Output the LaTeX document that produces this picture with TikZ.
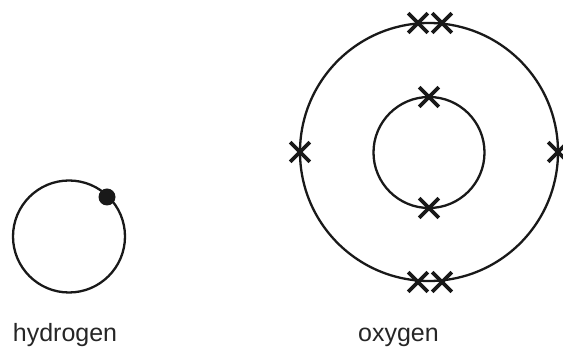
\documentclass[tikz,border=0pt]{standalone}
\usepackage{fontspec}
\setmainfont{Liberation Sans}
\usetikzlibrary{shapes.misc}
\begin{document}
\begin{tikzpicture}[x=0.5pt,y=-0.5pt,
  shell/.style={circle,draw=black!90,line width=1.15pt,inner sep=0pt},
  elec/.style={cross out,draw=black!90,line width=1.8pt,minimum size=8pt,inner sep=0pt},
  dotelec/.style={circle,fill=black!90,minimum size=8.5pt,inner sep=0pt},
  lbl/.style={anchor=base,font=\fontsize{12.5pt}{14pt}\selectfont,text=black!85}]
\useasboundingbox (0,0) rectangle (563,347);
% hydrogen
\node[shell,minimum size=56pt] (h) at (69,236.5) {};
\node[dotelec] (he) at (107,197) {};
% oxygen
\node[shell,minimum size=129pt] (oo) at (429,152) {};
\node[shell,minimum size=55.5pt] (oi) at (429,152.5) {};
\node[elec] (i1) at (429,97) {};
\node[elec] (i2) at (429,208) {};
\node[elec] (t1) at (418,23) {};
\node[elec] (t2) at (442,23) {};
\node[elec] (b1) at (418,282) {};
\node[elec] (b2) at (442,282) {};
\node[elec] (l1) at (300,152) {};
\node[elec] (r1) at (558,152) {};
% labels
\node[lbl] (hl) at (65,342) {hydrogen};
\node[lbl] (ol) at (398.5,342) {oxygen};
\end{tikzpicture}
\end{document}
